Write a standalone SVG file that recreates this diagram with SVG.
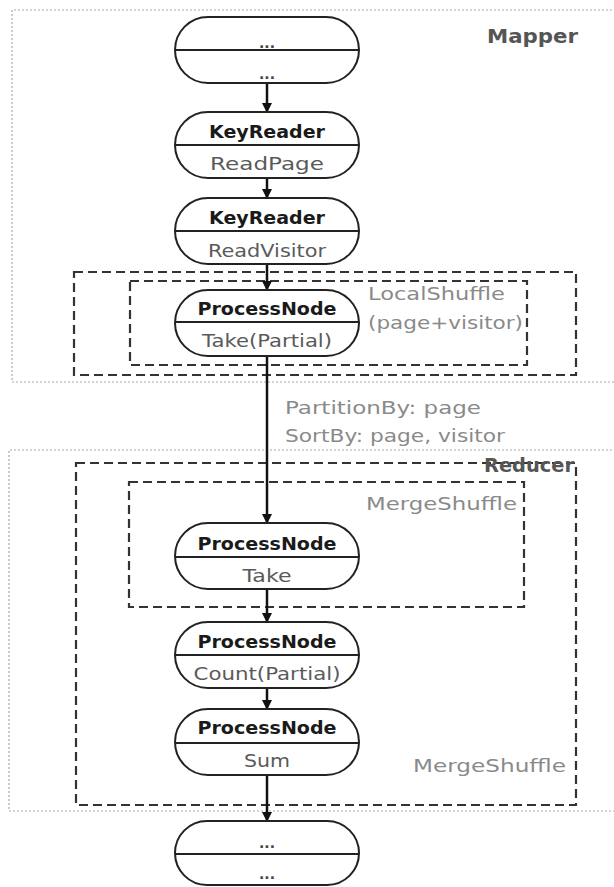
<svg xmlns="http://www.w3.org/2000/svg" width="614" height="887" viewBox="0 0 614 887">
<defs>
<style>
.bg{fill:#ffffff}
.dot{fill:none;stroke:#a8a8a8;stroke-width:1.2;stroke-dasharray:2 2}
.dash{fill:none;stroke:#333;stroke-width:2.2;stroke-dasharray:9 5}
.node{fill:#fff;stroke:#222;stroke-width:2}
.div{stroke:#222;stroke-width:2}
.t{font-family:"DejaVu Sans","Liberation Sans",sans-serif;font-size:18px;font-weight:bold;fill:#1a1a1a;text-anchor:middle}
.s{font-family:"DejaVu Sans","Liberation Sans",sans-serif;font-size:18px;fill:#5a5a5a;text-anchor:middle}
.d{font-family:"DejaVu Sans","Liberation Sans",sans-serif;font-size:14px;font-weight:bold;fill:#444;text-anchor:middle}
.lab{font-family:"DejaVu Sans","Liberation Sans",sans-serif;font-size:18px;fill:#8a8a8a}
.big{font-family:"DejaVu Sans","Liberation Sans",sans-serif;font-size:20px;font-weight:bold;fill:#555}
.conn{stroke:#111;stroke-width:2.5;fill:none;marker-end:url(#ah)}
</style>
<marker id="ah" viewBox="0 0 10 10" refX="9" refY="5" markerWidth="4" markerHeight="4" orient="auto" markerUnits="strokeWidth">
<path d="M0,0 L10,5 L0,10 z" fill="#111"/>
</marker>
</defs>
<rect class="bg" x="0" y="0" width="614" height="887"/>

<g id="mapper-region">
<path class="dot" d="M620,10 H12 V382 H620"/>
<text class="big" x="487" y="43" textLength="91" lengthAdjust="spacingAndGlyphs">Mapper</text>
</g>
<g id="reducer-region">
<path class="dot" d="M620,450 H9 V811 H620"/>
</g>

<g id="localshuffle-outer"><rect class="dash" x="74" y="272" width="502" height="103"/></g>
<g id="localshuffle-inner">
<rect class="dash" x="130" y="281" width="397" height="84"/>
<text class="lab" x="368" y="300" textLength="137" lengthAdjust="spacingAndGlyphs">LocalShuffle</text>
<text class="lab" x="368" y="329" textLength="155" lengthAdjust="spacingAndGlyphs">(page+visitor)</text>
</g>
<g id="reducer-outer">
<rect class="dash" x="76" y="463" width="500" height="342"/>
<text class="big" x="484" y="472" textLength="90" lengthAdjust="spacingAndGlyphs">Reducer</text>
<text class="lab" x="413" y="772" textLength="153" lengthAdjust="spacingAndGlyphs">MergeShuffle</text>
</g>
<g id="mergeshuffle-inner">
<rect class="dash" x="129" y="482" width="395" height="125"/>
<text class="lab" x="366" y="510" textLength="151" lengthAdjust="spacingAndGlyphs">MergeShuffle</text>
</g>

<g id="connectors">
<line class="conn" x1="267" y1="83" x2="267" y2="112"/>
<line class="conn" x1="267" y1="178" x2="267" y2="198"/>
<line class="conn" x1="267" y1="264" x2="267" y2="290"/>
<line class="conn" x1="267" y1="356" x2="267" y2="523"/>
<line class="conn" x1="267" y1="589" x2="267" y2="622"/>
<line class="conn" x1="267" y1="688" x2="267" y2="709"/>
<line class="conn" x1="267" y1="775" x2="267" y2="821"/>
<text class="lab" x="285" y="414" textLength="196" lengthAdjust="spacingAndGlyphs">PartitionBy: page</text>
<text class="lab" x="285" y="442" textLength="220" lengthAdjust="spacingAndGlyphs">SortBy: page, visitor</text>
</g>

<g id="node-top">
<rect class="node" x="175" y="17" width="184" height="66" rx="33" ry="33"/>
<line class="div" x1="176" y1="50" x2="358" y2="50"/>
<text class="d" x="267" y="48">...</text>
<text class="d" x="267" y="79">...</text>
</g>
<g id="node-readpage">
<rect class="node" x="175" y="112" width="184" height="66" rx="33" ry="33"/>
<line class="div" x1="176" y1="145" x2="358" y2="145"/>
<text class="t" x="267" y="138" textLength="116" lengthAdjust="spacingAndGlyphs">KeyReader</text>
<text class="s" x="267" y="170" textLength="114" lengthAdjust="spacingAndGlyphs">ReadPage</text>
</g>
<g id="node-readvisitor">
<rect class="node" x="175" y="198" width="184" height="66" rx="33" ry="33"/>
<line class="div" x1="176" y1="231" x2="358" y2="231"/>
<text class="t" x="267" y="224" textLength="116" lengthAdjust="spacingAndGlyphs">KeyReader</text>
<text class="s" x="267" y="257" textLength="118" lengthAdjust="spacingAndGlyphs">ReadVisitor</text>
</g>
<g id="node-takepartial">
<rect class="node" x="175" y="290" width="184" height="66" rx="33" ry="33"/>
<line class="div" x1="176" y1="322" x2="358" y2="322"/>
<text class="t" x="267" y="315" textLength="139" lengthAdjust="spacingAndGlyphs">ProcessNode</text>
<text class="s" x="267" y="347" textLength="130" lengthAdjust="spacingAndGlyphs">Take(Partial)</text>
</g>
<g id="node-take">
<rect class="node" x="175" y="523" width="184" height="66" rx="33" ry="33"/>
<line class="div" x1="176" y1="557" x2="358" y2="557"/>
<text class="t" x="267" y="550" textLength="139" lengthAdjust="spacingAndGlyphs">ProcessNode</text>
<text class="s" x="267" y="582" textLength="49" lengthAdjust="spacingAndGlyphs">Take</text>
</g>
<g id="node-count">
<rect class="node" x="175" y="622" width="184" height="66" rx="33" ry="33"/>
<line class="div" x1="176" y1="655" x2="358" y2="655"/>
<text class="t" x="267" y="648" textLength="139" lengthAdjust="spacingAndGlyphs">ProcessNode</text>
<text class="s" x="267" y="680" textLength="147" lengthAdjust="spacingAndGlyphs">Count(Partial)</text>
</g>
<g id="node-sum">
<rect class="node" x="175" y="709" width="184" height="66" rx="33" ry="33"/>
<line class="div" x1="176" y1="743" x2="358" y2="743"/>
<text class="t" x="267" y="734" textLength="139" lengthAdjust="spacingAndGlyphs">ProcessNode</text>
<text class="s" x="267" y="767" textLength="46" lengthAdjust="spacingAndGlyphs">Sum</text>
</g>
<g id="node-bottom">
<rect class="node" x="175" y="821" width="184" height="64" rx="32" ry="32"/>
<line class="div" x1="176" y1="854" x2="358" y2="854"/>
<text class="d" x="267" y="848">...</text>
<text class="d" x="267" y="879">...</text>
</g>
</svg>
